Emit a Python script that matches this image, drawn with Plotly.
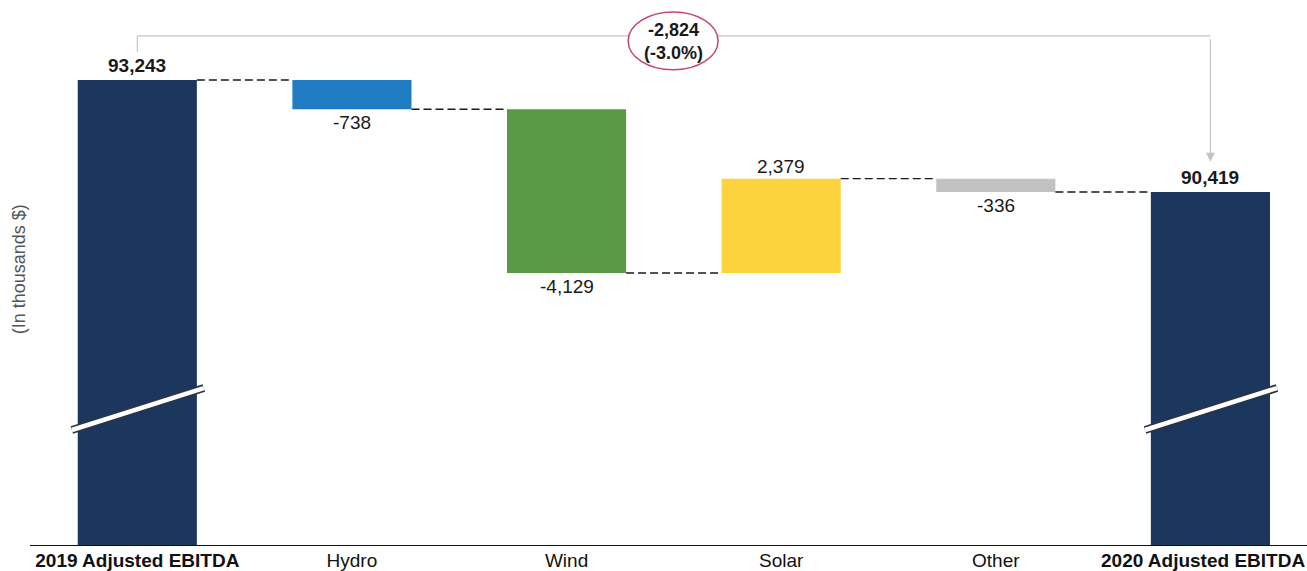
import plotly.graph_objects as go

# Bridge from 2019 to 2020 Adjusted EBITDA (in thousands $)
categories = ["2019 Adjusted EBITDA", "Hydro", "Wind", "Solar", "Other", "2020 Adjusted EBITDA"]
start_total = 93243
segment_changes = [-738, -4129, 2379, -336]
end_total = 90419
bar_colors = ["#1b375d", "#1f7cc3", "#5b9a45", "#fdd43d", "#c2c2c2", "#1b375d"]

FONT = "Liberation Sans, Arial, sans-serif"
BAR_W = 0.555
Y_RANGE = [81518, 95260]

# Running levels through the bridge
levels = [start_total]
for c in segment_changes:
    levels.append(levels[-1] + c)

bases = [0] + levels[:-1] + [0]
heights = [start_total] + segment_changes + [end_total]
xs = list(range(len(categories)))

fig = go.Figure(go.Bar(
    x=xs, y=heights, base=bases, width=BAR_W,
    marker=dict(color=bar_colors, line=dict(width=0)),
    hoverinfo="skip",
))

shapes = []
annotations = []

# Dashed connectors between consecutive bars
for i in range(len(categories) - 1):
    lvl = levels[i] if i < len(levels) else end_total
    shapes.append(dict(
        type="line", xref="x", yref="y",
        x0=i + BAR_W / 2, x1=i + 1 - BAR_W / 2, y0=lvl, y1=lvl,
        line=dict(color="#1a1a1a", width=1.3, dash="8px,4px"),
    ))

# Axis-break marks on the two total bars
for xc in (0, 5):
    for col, w in (("#2b3442", 8), ("#ffffff", 4.5)):
        shapes.append(dict(
            type="line", xref="x", yref="y domain",
            x0=xc - 0.305, x1=xc + 0.31, y0=0.211, y1=0.288,
            line=dict(color=col, width=w),
        ))

# Bracket connecting the two totals
bracket = dict(color="#c4c4c4", width=1.2)
shapes.append(dict(type="line", xref="x", yref="y domain", x0=0, x1=0, y0=0.905, y1=0.934, line=bracket))
shapes.append(dict(type="line", xref="x", yref="y domain", x0=0, x1=5, y0=0.934, y1=0.934, line=bracket))
shapes.append(dict(
    type="circle", xref="x", yref="y domain",
    x0=2.287, x1=2.706, y0=0.872, y1=0.978,
    fillcolor="#ffffff", line=dict(color="#c8466e", width=1.5),
))
annotations.append(dict(
    x=5, y=0.703, xref="x", yref="y domain", text="", showarrow=True,
    ax=0, ay=-124, arrowhead=2, arrowsize=1.5, arrowwidth=1.2, arrowcolor="#c4c4c4",
))

diff = end_total - start_total
pct = diff / start_total * 100
annotations.append(dict(
    x=2.5, y=0.924, xref="x", yref="y domain", showarrow=False,
    text=f"<b>{diff:,}</b><br><b>({pct:.1f}%)</b>",
    xanchor="center", yanchor="middle",
    font=dict(family=FONT, size=18, color="#1a1a1a"),
))

# Value labels
LABEL_FONT = dict(family=FONT, size=19, color="#1a1a1a")
annotations.append(dict(x=0, y=start_total, xref="x", yref="y", showarrow=False,
                        text=f"<b>{start_total:,}</b>", yanchor="bottom", yshift=2,
                        font=LABEL_FONT))
annotations.append(dict(x=5, y=end_total, xref="x", yref="y", showarrow=False,
                        text=f"<b>{end_total:,}</b>", yanchor="bottom", yshift=2,
                        font=LABEL_FONT))
for i, c in enumerate(segment_changes):
    top = max(levels[i], levels[i + 1])
    bottom = min(levels[i], levels[i + 1])
    if c < 0:
        annotations.append(dict(x=i + 1, y=bottom, xref="x", yref="y", showarrow=False,
                                text=f"{c:,}", yanchor="top", yshift=-1,
                                font=LABEL_FONT))
    else:
        annotations.append(dict(x=i + 1, y=top, xref="x", yref="y", showarrow=False,
                                text=f"{c:,}", yanchor="bottom", yshift=0,
                                font=LABEL_FONT))

# Y-axis title
annotations.append(dict(x=-0.009, y=0.505, xref="paper", yref="y domain", showarrow=False,
                        text="(In thousands $)", textangle=-90, xanchor="center",
                        font=dict(family=FONT, size=18, color="#555555")))

# Category labels; the last one is right-aligned to the page edge
TICK_FONT = dict(family=FONT, size=19, color="#111111")
tick_text = [f"<b>{c}</b>" if i == 0 else c for i, c in enumerate(categories)]
tick_text[-1] = ""
annotations.append(dict(x=1, y=-0.0285, xref="paper", yref="paper", showarrow=False,
                        text=f"<b>{categories[-1]}</b>", xanchor="right", yanchor="middle",
                        font=TICK_FONT))

fig.update_layout(
    width=1307, height=571,
    margin=dict(l=30, r=0, t=0, b=26, autoexpand=False),
    paper_bgcolor="#ffffff", plot_bgcolor="#ffffff",
    showlegend=False,
    shapes=shapes, annotations=annotations,
    xaxis=dict(range=[-0.5, 5.45], tickvals=xs, ticktext=tick_text,
               showline=True, linecolor="#111111", linewidth=1.2,
               showgrid=False, zeroline=False, ticks="",
               ticklabeloverflow="allow", automargin=False,
               ticklabelstandoff=-2,
               tickfont=TICK_FONT),
    yaxis=dict(range=Y_RANGE, visible=False, showgrid=False, zeroline=False),
)

fig.write_html("out.html")
